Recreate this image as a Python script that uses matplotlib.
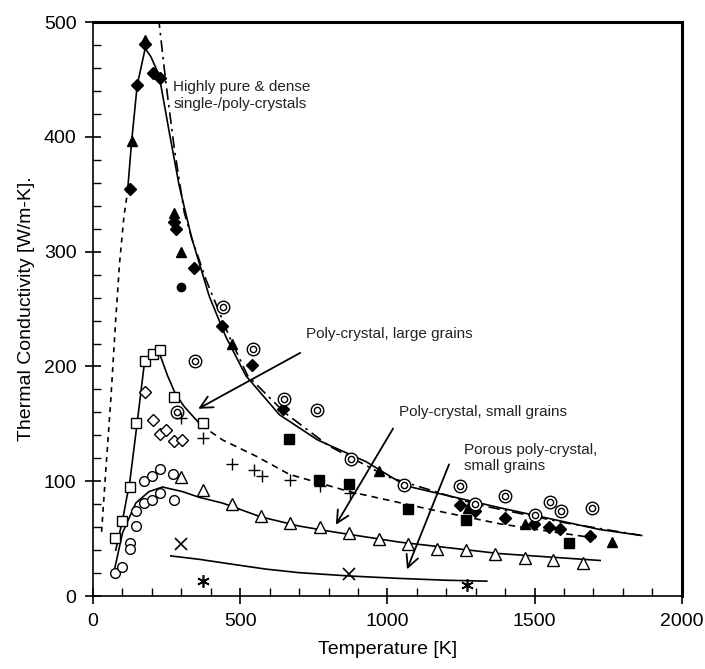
import matplotlib
matplotlib.use("Agg")
import matplotlib.pyplot as plt
from matplotlib.ticker import MultipleLocator

plt.rcParams['font.family'] = ['Liberation Sans', 'DejaVu Sans']

# ---- measured points (T [K], k [W/m-K]) ----
# highly pure & dense crystals
dia_f_T = [126, 150, 177, 202, 227, 276, 283, 344, 438, 540, 644, 1245, 1296, 1398, 1498, 1549, 1588, 1690]
dia_f_k = [355, 445, 481, 456, 451, 326, 320, 286, 235, 201, 163, 79, 74, 68, 63, 60, 58, 52]
tri_f_T = [131, 177, 276, 298, 472, 973, 1273, 1466, 1764]
tri_f_k = [396, 484, 334, 300, 220, 109, 77, 63, 47]
circ_f_T = [298]
circ_f_k = [269]
bull_T = [285, 347, 440, 542, 650, 760, 876, 1058, 1248, 1299, 1398, 1500, 1551, 1591, 1696]
bull_k = [160, 205, 252, 215, 172, 162, 119, 97, 96, 80, 87, 71, 82, 74, 77]
sq_f_T = [667, 769, 868, 1069, 1268, 1616]
sq_f_k = [137, 101, 98, 76, 66, 46]

# poly-crystal, large grains
sq_o_T = [75, 100, 125, 147, 177, 202, 227, 276, 372]
sq_o_k = [51, 65, 95, 151, 205, 211, 214, 173, 151]
dia_o_T = [177, 202, 227, 249, 276, 302]
dia_o_k = [178, 153, 141, 145, 135, 136]
plus_T = [298, 372, 472, 548, 573, 670, 771, 873]
plus_k = [155, 138, 115, 110, 105, 101, 96, 90]

# poly-crystal, small grains
circ_o_T = [75, 100, 125, 125, 147, 147, 173, 200, 227, 276, 173, 200, 227, 273]
circ_o_k = [20, 25, 46, 41, 61, 74, 81, 84, 90, 84, 100, 105, 111, 106]
tri_o_T = [298, 372, 472, 570, 670, 771, 871, 970, 1069, 1169, 1268, 1367, 1466, 1562, 1664]
tri_o_k = [104, 92, 80, 70, 64, 60, 55, 50, 45, 41, 40, 37, 33, 31, 29]

# porous poly-crystal
x_T = [298, 871]
x_k = [45, 19]
ast_T = [372, 1271]
ast_k = [13, 10]

# ---- curves ----
pure_solid_T = [117, 131, 150, 177, 196, 224, 259, 293, 335, 395, 451, 519, 633, 763, 928, 1063, 1381, 1721, 1857]
pure_solid_k = [352, 396, 445, 477, 470, 454, 404, 357, 312, 261, 226, 192, 158, 136, 117, 96, 77, 58, 53]
pure_theory_T = [222, 247, 276, 310, 335, 383, 463, 525, 650, 800, 1000, 1300, 1600, 1882]
pure_theory_k = [505, 448, 390, 334, 312, 276, 226, 192, 160, 131, 104, 80, 64, 52]
low_dash_T = [29, 41, 60, 77, 90, 105, 117]
low_dash_k = [56, 101, 170, 241, 290, 331, 352]
large_solid_T = [77, 100, 125, 147, 173, 200, 222, 253, 280, 310, 366]
large_solid_k = [40, 66, 100, 145, 200, 211, 214, 192, 176, 165, 149]
large_dash_T = [366, 440, 553, 667, 871, 1154, 1381, 1560, 1720]
large_dash_k = [149, 136, 122, 106, 91, 75, 63, 56, 50]
small_solid_T = [71, 100, 145, 190, 236, 304, 361, 440, 570, 700, 814, 1041, 1381, 1723]
small_solid_k = [21, 55, 81, 91, 95, 91, 86, 81, 69, 61, 56, 47, 37, 31]
porous_T = [264, 361, 474, 587, 700, 871, 1041, 1200, 1338]
porous_k = [35, 32, 27.7, 23.5, 20.4, 17.5, 15.4, 13.8, 13]

fig = plt.figure(figsize=(7.05, 6.69), dpi=100)
ax = fig.add_axes([0.132, 0.109, 0.835, 0.858])

lw = 1.2
ax.plot(pure_solid_T, pure_solid_k, 'k-', lw=lw)
ax.plot(pure_theory_T, pure_theory_k, 'k', lw=lw, dashes=(7, 3, 1.5, 3))
ax.plot(low_dash_T, low_dash_k, 'k', lw=lw, dashes=(3, 3))
ax.plot(large_solid_T, large_solid_k, 'k-', lw=lw)
ax.plot(large_dash_T, large_dash_k, 'k', lw=lw, dashes=(4, 3))
ax.plot(small_solid_T, small_solid_k, 'k-', lw=lw)
ax.plot(porous_T, porous_k, 'k-', lw=lw)

mk = dict(ls='none', color='k', zorder=3)
ax.plot(dia_f_T, dia_f_k, marker='D', ms=6, **mk)
ax.plot(tri_f_T, tri_f_k, marker='^', ms=7.5, **mk)
ax.plot(circ_f_T, circ_f_k, marker='o', ms=6, **mk)
ax.plot(sq_f_T, sq_f_k, marker='s', ms=7, **mk)
ax.plot(bull_T, bull_k, marker='o', ms=9, mfc='white', mew=1.0, **mk)
ax.plot(bull_T, bull_k, marker='o', ms=4.5, mfc='white', mew=1.0, **mk)
ax.plot(sq_o_T, sq_o_k, marker='s', ms=7.5, mfc='white', mew=1.0, **mk)
ax.plot(dia_o_T, dia_o_k, marker='D', ms=6.5, mfc='white', mew=1.0, **mk)
ax.plot(plus_T, plus_k, marker='+', ms=9, mew=1.0, **mk)
ax.plot(circ_o_T, circ_o_k, marker='o', ms=7, mfc='white', mew=1.0, **mk)
ax.plot(tri_o_T, tri_o_k, marker='^', ms=8, mfc='white', mew=1.0, **mk)
ax.plot(x_T, x_k, marker='x', ms=8, mew=1.2, **mk)
ax.plot(ast_T, ast_k, marker=(6, 2, 0), ms=9, mew=1.2, **mk)

# annotations
ax.text(272, 436, 'Highly pure & dense\nsingle-/poly-crystals', fontsize=11,
        va='center', ha='left', linespacing=1.2, color='#222222')
ax.text(723, 228, 'Poly-crystal, large grains', fontsize=11, va='center', color='#222222')
ax.text(1041, 160, 'Poly-crystal, small grains', fontsize=11, va='center', color='#222222')
ax.text(1259, 120, 'Porous poly-crystal,\nsmall grains', fontsize=11, va='center',
        linespacing=1.2, color='#222222')

arrow = dict(arrowstyle='->', lw=1.3, color='k', mutation_scale=22)
ax.annotate('', xy=(349, 162), xytext=(712, 213), arrowprops=arrow)
ax.annotate('', xy=(820, 60), xytext=(1024, 148), arrowprops=arrow)
ax.annotate('', xy=(1063, 21), xytext=(1213, 117), arrowprops=arrow)

ax.set_xlim(0, 2000)
ax.set_ylim(0, 500)
ax.xaxis.set_major_locator(MultipleLocator(500))
ax.xaxis.set_minor_locator(MultipleLocator(100))
ax.yaxis.set_major_locator(MultipleLocator(100))
ax.yaxis.set_minor_locator(MultipleLocator(20))
ax.tick_params(which='major', direction='inout', length=12, width=1.2, labelsize=14, pad=6)
ax.tick_params(which='minor', direction='in', length=6, width=1.0)

for s in ['left', 'bottom']:
    ax.spines[s].set_linewidth(1.2)
for s in ['top', 'right']:
    ax.spines[s].set_linewidth(2.2)

ax.set_xlabel('Temperature [K]', fontsize=14, labelpad=8)
ax.set_ylabel('Thermal Conductivity [W/m-K].', fontsize=14, labelpad=6)

fig.savefig('out.png', dpi=100)
